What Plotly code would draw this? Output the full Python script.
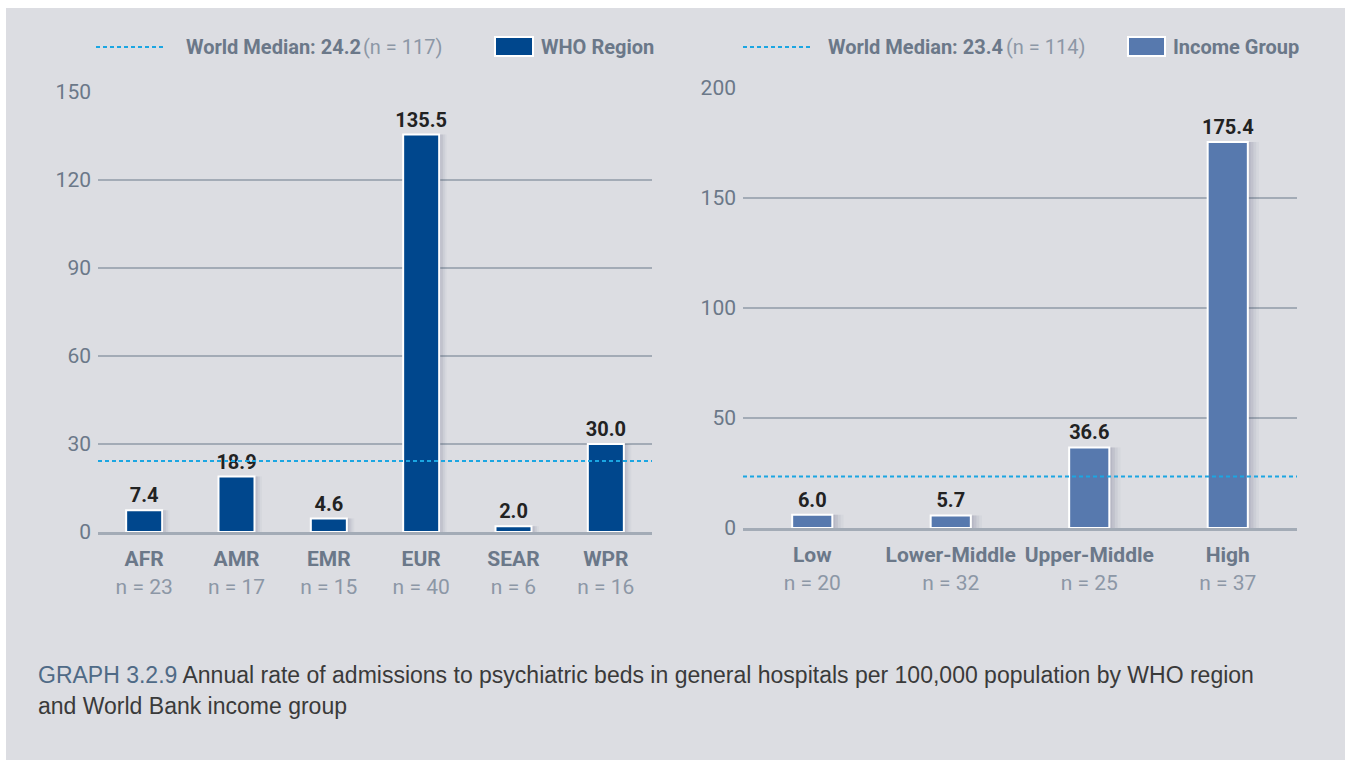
import plotly.graph_objects as go

W, H = 1351, 769

# ---- data ----
regions = ["AFR", "AMR", "EMR", "EUR", "SEAR", "WPR"]
region_n = [23, 17, 15, 40, 6, 16]
region_vals = [7.4, 18.9, 4.6, 135.5, 2.0, 30.0]
region_median = 24.2
region_median_n = 117

incomes = ["Low", "Lower-Middle", "Upper-Middle", "High"]
income_n = [20, 32, 25, 37]
income_vals = [6.0, 5.7, 36.6, 175.4]
income_median = 23.4
income_median_n = 114

left_ticks = [0, 30, 60, 90, 120, 150]
right_ticks = [0, 50, 100, 150, 200]

# ---- styling ----
FONT = "Roboto, Arial, sans-serif"
CAPFONT = "Liberation Sans, Arial, sans-serif"
PANEL = "#dcdde2"
GRID = "#a3abb6"
TICK = "#6b7889"
NCOL = "#8c97a6"
DARK = "#00478d"
LIGHT = "#5779ae"
MED = "#1ba6e2"


def X(px):
    return px / W


def Y(py):
    return 1 - py / H


def ticktext(cats, ns):
    return [f"<b>{c}</b><br><span style='color:{NCOL}'>n = {n}</span>" for c, n in zip(cats, ns)]


fig = go.Figure()


def add_bars(cats, vals, color, xa, ya, width):
    # soft layered shadow
    for dx, a in [(0.08, 0.04), (0.06, 0.06), (0.04, 0.08), (0.02, 0.08)]:
        fig.add_trace(go.Bar(
            x=list(range(len(cats))), y=vals, width=width, offset=-width / 2 + dx,
            marker=dict(color=f"rgba(60,70,100,{a})", line=dict(width=0)),
            xaxis=xa, yaxis=ya, showlegend=False, hoverinfo="skip"))
    fig.add_trace(go.Bar(
        x=list(range(len(cats))), y=vals, width=width,
        marker=dict(color=color, line=dict(color="white", width=2)),
        text=[f"{v:.1f}" for v in vals], textposition="outside", constraintext="none",
        textfont=dict(family=FONT, size=20, color="#222222", weight="bold"),
        cliponaxis=False, xaxis=xa, yaxis=ya, showlegend=False))


add_bars(regions, region_vals, DARK, "x", "y", 0.39)
add_bars(incomes, income_vals, LIGHT, "x2", "y2", 0.29)

xax_common = dict(showgrid=False, zeroline=False, fixedrange=True, automargin=False, tickangle=0,
                  tickfont=dict(family=FONT, size=21, color=TICK), ticks="",
                  showline=True, linecolor=GRID, linewidth=3, ticklabelstandoff=6)
yax_common = dict(showgrid=True, gridcolor=GRID, gridwidth=1.5, zeroline=False, automargin=False,
                  fixedrange=True,
                  tickfont=dict(family=FONT, size=21, color=TICK), ticks="", ticklabelstandoff=6)

fig.update_layout(
    width=W, height=H, margin=dict(l=0, r=0, t=0, b=0, autoexpand=False),
    paper_bgcolor="white", plot_bgcolor="rgba(0,0,0,0)",
    barmode="overlay", showlegend=False,
    xaxis=dict(domain=[X(98), X(652)], anchor="y", range=[-0.5, 5.5],
               tickvals=list(range(len(regions))), ticktext=ticktext(regions, region_n), **xax_common),
    yaxis=dict(domain=[Y(532), Y(92)], anchor="x", range=[0, 150], tickvals=left_ticks, **yax_common),
    xaxis2=dict(domain=[X(743), X(1297)], anchor="y2", range=[-0.5, 3.5],
                tickvals=list(range(len(incomes))), ticktext=ticktext(incomes, income_n), **xax_common),
    yaxis2=dict(domain=[Y(528), Y(88)], anchor="x2", range=[0, 200], tickvals=right_ticks, **yax_common),
)

dash = "4px,3px"
shapes = [
    dict(type="rect", xref="paper", yref="paper", x0=X(6), x1=X(1345), y0=Y(760), y1=Y(8),
         fillcolor=PANEL, line=dict(width=0), layer="below"),
    dict(type="line", xref="x domain", yref="y", x0=0, x1=1, y0=region_median, y1=region_median,
         line=dict(color=MED, width=2, dash=dash)),
    dict(type="line", xref="x2 domain", yref="y2", x0=0, x1=1, y0=income_median, y1=income_median,
         line=dict(color=MED, width=2, dash=dash)),
    dict(type="line", xref="paper", yref="paper", x0=X(96), x1=X(165), y0=Y(47), y1=Y(47),
         line=dict(color=MED, width=2, dash=dash)),
    dict(type="rect", xref="paper", yref="paper", x0=X(495), x1=X(533), y0=Y(56), y1=Y(37),
         fillcolor=DARK, line=dict(color="white", width=2)),
    dict(type="line", xref="paper", yref="paper", x0=X(743), x1=X(811), y0=Y(47), y1=Y(47),
         line=dict(color=MED, width=2, dash=dash)),
    dict(type="rect", xref="paper", yref="paper", x0=X(1128), x1=X(1165), y0=Y(56), y1=Y(37),
         fillcolor=LIGHT, line=dict(color="white", width=2)),
]
fig.update_layout(shapes=shapes)

ann = [
    dict(x=X(184), y=Y(47), xanchor="left", text=f"<b>World Median: {region_median}</b>"),
    dict(x=X(444), y=Y(47), xanchor="right", text=f"<span style='color:{NCOL}'>(n = {region_median_n})</span>"),
    dict(x=X(539), y=Y(47), xanchor="left", text="<b>WHO Region</b>"),
    dict(x=X(826), y=Y(47), xanchor="left", text=f"<b>World Median: {income_median}</b>"),
    dict(x=X(1087), y=Y(47), xanchor="right", text=f"<span style='color:{NCOL}'>(n = {income_median_n})</span>"),
    dict(x=X(1171), y=Y(47), xanchor="left", text="<b>Income Group</b>"),
]
for a in ann:
    fig.add_annotation(xref="paper", yref="paper", yanchor="middle", showarrow=False,
                       font=dict(family=FONT, size=20, color=TICK), **a)

cap_lines = [
    "<span style='color:#4f6a86'>GRAPH 3.2.9</span> Annual rate of admissions to psychiatric beds in general hospitals per 100,000 population by WHO region",
    "and World Bank income group",
]
for line, py in zip(cap_lines, [675, 706]):
    fig.add_annotation(
        xref="paper", yref="paper", x=X(36), y=Y(py), xanchor="left", yanchor="middle", showarrow=False,
        align="left", text=line, font=dict(family=CAPFONT, size=23, color="#3a3a3a"))

fig.write_html(
    "out.html",
    config={"displayModeBar": False},
    post_script="document.body.style.margin='0';document.body.style.overflow='hidden';",
)
